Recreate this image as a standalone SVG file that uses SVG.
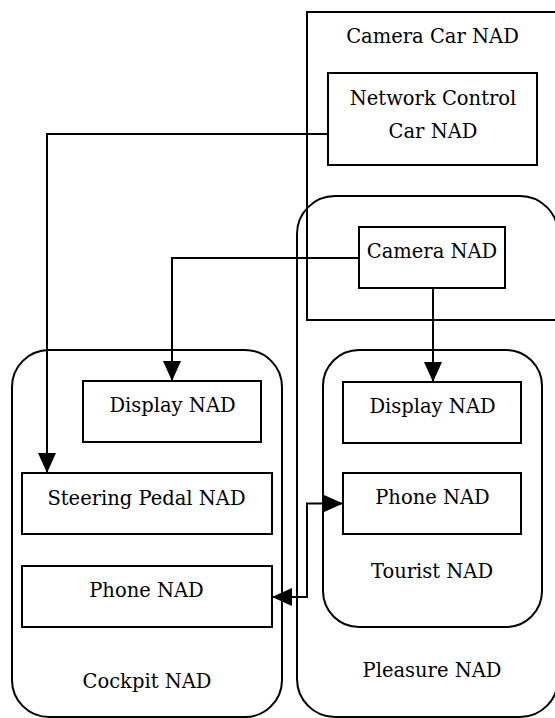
<svg xmlns="http://www.w3.org/2000/svg" width="555" height="718" viewBox="0 0 555 718">
<style>
.box{fill:none;stroke:#000;stroke-width:2}
.grp{fill:none;stroke:#000;stroke-width:2}
.lbl{font-family:"DejaVu Serif","Liberation Serif",serif;font-size:19.5px;fill:#000;text-anchor:middle}
.con{fill:none;stroke:#000;stroke-width:2}
</style>
<defs>
<marker id="ah" markerUnits="userSpaceOnUse" markerWidth="21" markerHeight="19" refX="20" refY="9" orient="auto-start-reverse">
<path d="M0,0 L20,9 L0,18 z" fill="#000"/>
</marker>
</defs>
<rect width="555" height="718" fill="#fff"/>
<g id="camera-car-nad">
<rect class="grp" x="307" y="12" width="260" height="308"/>
<text class="lbl" x="432.5" y="43">Camera Car NAD</text>
</g>
<g id="pleasure-nad">
<rect class="grp" x="297" y="196" width="261" height="521" rx="38" ry="38"/>
<text class="lbl" x="432" y="677">Pleasure NAD</text>
</g>
<g id="network-control">
<rect class="box" x="328" y="73" width="209" height="92"/>
<text class="lbl" x="433" y="105">Network Control</text>
<text class="lbl" x="433" y="138">Car NAD</text>
</g>
<g id="camera-nad">
<rect class="box" x="359" y="227" width="146" height="61"/>
<text class="lbl" x="432" y="258">Camera NAD</text>
</g>
<g id="tourist-nad">
<rect class="grp" x="323" y="350" width="219" height="277" rx="36" ry="36"/>
<text class="lbl" x="432" y="578">Tourist NAD</text>
</g>
<g id="tourist-display">
<rect class="box" x="343" y="382" width="178" height="61"/>
<text class="lbl" x="432.5" y="413">Display NAD</text>
</g>
<g id="tourist-phone">
<rect class="box" x="343" y="473" width="178" height="61"/>
<text class="lbl" x="432.5" y="504">Phone NAD</text>
</g>
<g id="cockpit-nad">
<rect class="grp" x="12" y="350" width="270" height="367" rx="37" ry="37"/>
<text class="lbl" x="147" y="688">Cockpit NAD</text>
</g>
<g id="cockpit-display">
<rect class="box" x="83" y="381" width="178" height="61"/>
<text class="lbl" x="172.5" y="412">Display NAD</text>
</g>
<g id="steering-pedal">
<rect class="box" x="22" y="473" width="250" height="61"/>
<text class="lbl" x="146.5" y="505">Steering Pedal NAD</text>
</g>
<g id="cockpit-phone">
<rect class="box" x="22" y="566" width="250" height="61"/>
<text class="lbl" x="146.5" y="597">Phone NAD</text>
</g>
<g id="connectors">
<path class="con" d="M328,134 H47 V473" marker-end="url(#ah)"/>
<path class="con" d="M359,258 H172 V381" marker-end="url(#ah)"/>
<path class="con" d="M433,288 V382" marker-end="url(#ah)"/>
<path class="con" d="M272,597 H307 V503.5 H343" marker-start="url(#ah)" marker-end="url(#ah)"/>
</g>
</svg>
